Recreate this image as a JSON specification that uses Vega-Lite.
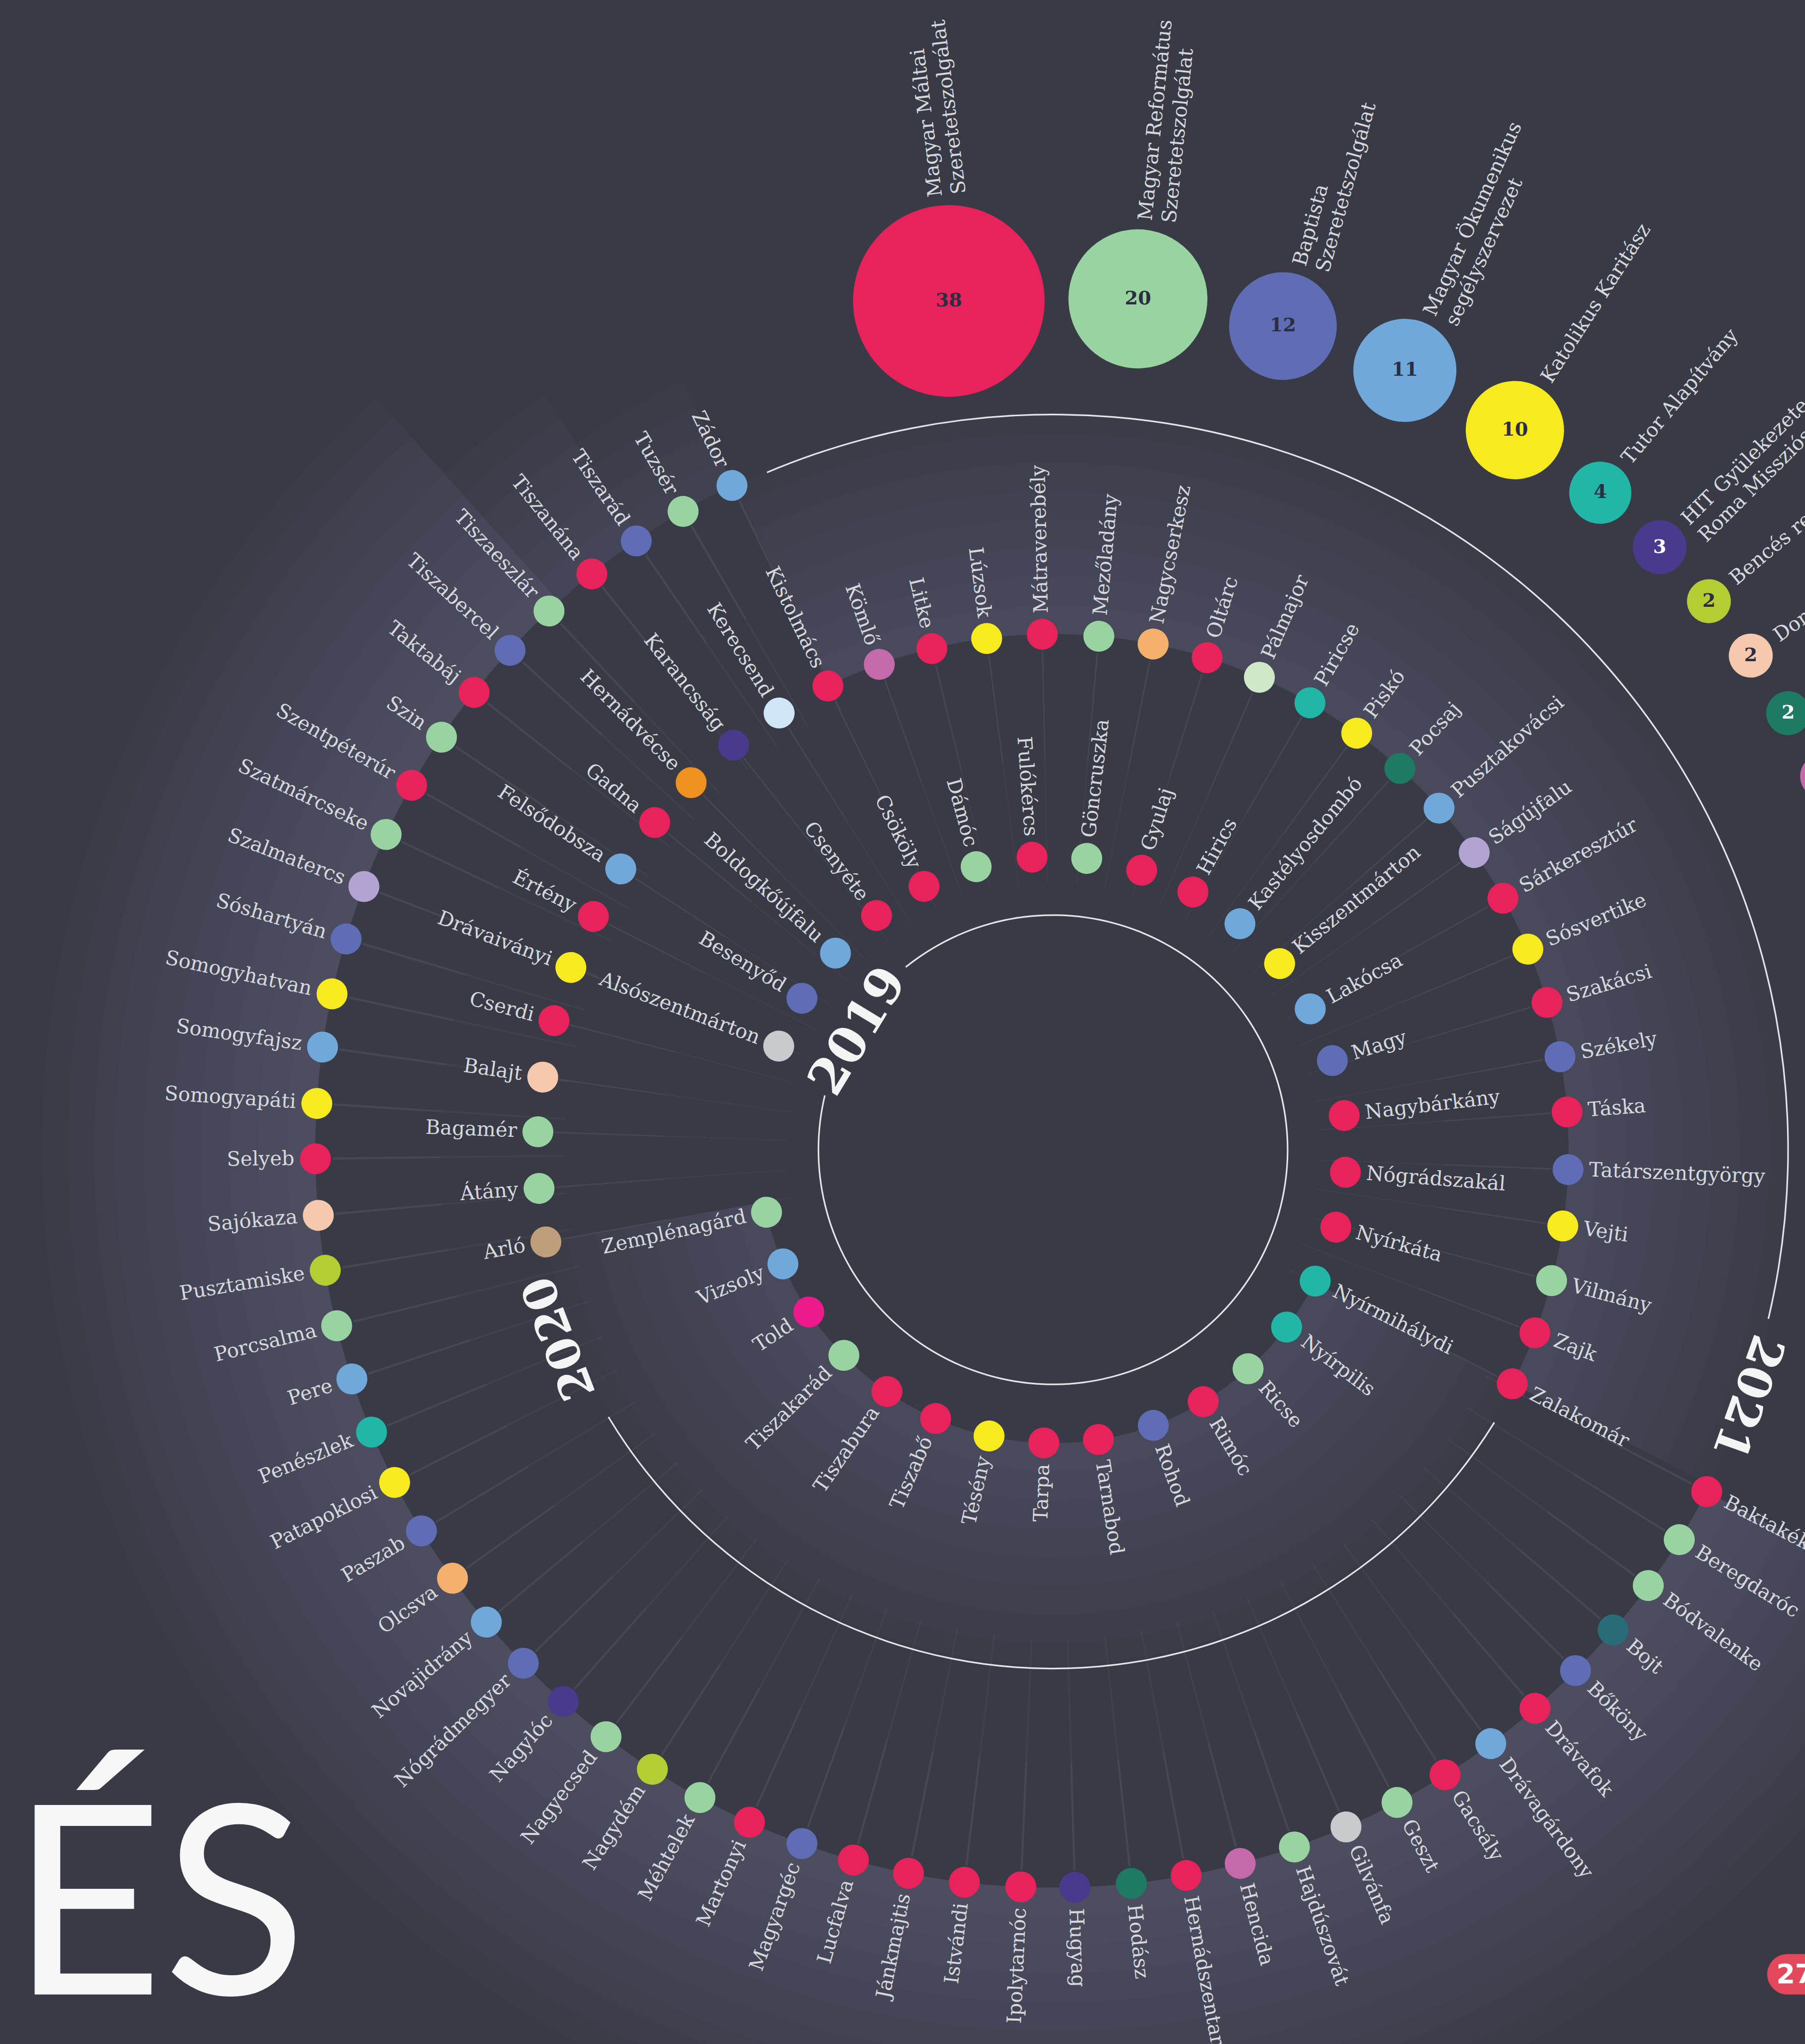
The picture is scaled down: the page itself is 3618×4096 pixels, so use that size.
{
"$schema": "https://vega.github.io/schema/vega-lite/v6.json",
"width": 3618, "height": 4096, "autosize": "none", "padding": 0,
"background": "#383a45",
"config": {"view": {"stroke": null}},
"datasets": {
"villages": [
{"name":"Alsószentmárton","year":2019,"org":"Sz12","deg":290.7},
{"name":"Besenyőd","year":2019,"org":"Baptista","deg":301.1},
{"name":"Boldogkőújfalu","year":2019,"org":"Ökumenikus","deg":312.1},
{"name":"Csenyéte","year":2019,"org":"Máltai","deg":323.0},
{"name":"Csököly","year":2019,"org":"Máltai","deg":333.9},
{"name":"Dámóc","year":2019,"org":"Református","deg":344.8},
{"name":"Fulókércs","year":2019,"org":"Máltai","deg":355.9},
{"name":"Göncruszka","year":2019,"org":"Református","deg":6.6},
{"name":"Gyulaj","year":2019,"org":"Máltai","deg":17.6},
{"name":"Hirics","year":2019,"org":"Máltai","deg":28.5},
{"name":"Kastélyosdombó","year":2019,"org":"Ökumenikus","deg":39.6},
{"name":"Kisszentmárton","year":2019,"org":"Karitász","deg":50.6},
{"name":"Lakócsa","year":2019,"org":"Ökumenikus","deg":61.3},
{"name":"Magy","year":2019,"org":"Baptista","deg":72.3},
{"name":"Nagybárkány","year":2019,"org":"Máltai","deg":83.3},
{"name":"Nógrádszakál","year":2019,"org":"Máltai","deg":94.4},
{"name":"Nyírkáta","year":2019,"org":"Máltai","deg":105.3},
{"name":"Nyírmihálydi","year":2019,"org":"Tutor","deg":116.6},
{"name":"Nyírpilis","year":2019,"org":"Tutor","deg":127.2},
{"name":"Ricse","year":2019,"org":"Református","deg":138.3},
{"name":"Rimóc","year":2019,"org":"Máltai","deg":149.2},
{"name":"Rohod","year":2019,"org":"Baptista","deg":160.0},
{"name":"Tarnabod","year":2019,"org":"Máltai","deg":171.1},
{"name":"Tarpa","year":2019,"org":"Máltai","deg":181.8},
{"name":"Tésény","year":2019,"org":"Karitász","deg":192.6},
{"name":"Tiszabő","year":2019,"org":"Máltai","deg":203.6},
{"name":"Tiszabura","year":2019,"org":"Máltai","deg":214.5},
{"name":"Tiszakarád","year":2019,"org":"Református","deg":225.5},
{"name":"Told","year":2019,"org":"Sz19","deg":236.4},
{"name":"Vizsoly","year":2019,"org":"Ökumenikus","deg":247.1},
{"name":"Zemplénagárd","year":2019,"org":"Református","deg":257.7},
{"name":"Arló","year":2020,"org":"Sz15","deg":259.7},
{"name":"Átány","year":2020,"org":"Református","deg":265.7},
{"name":"Bagamér","year":2020,"org":"Református","deg":272.0},
{"name":"Balajt","year":2020,"org":"Domonkos","deg":278.1},
{"name":"Cserdi","year":2020,"org":"Máltai","deg":284.5},
{"name":"Drávaiványi","year":2020,"org":"Karitász","deg":290.7},
{"name":"Értény","year":2020,"org":"Máltai","deg":296.9},
{"name":"Felsődobsza","year":2020,"org":"Ökumenikus","deg":303.0},
{"name":"Gadna","year":2020,"org":"Máltai","deg":309.4},
{"name":"Hernádvécse","year":2020,"org":"Sz16","deg":315.4},
{"name":"Karancsság","year":2020,"org":"HIT","deg":321.7},
{"name":"Kerecsend","year":2020,"org":"Sz17","deg":327.9},
{"name":"Kistolmács","year":2020,"org":"Máltai","deg":334.1},
{"name":"Kömlő","year":2020,"org":"Sz11","deg":340.3},
{"name":"Litke","year":2020,"org":"Máltai","deg":346.4},
{"name":"Lúzsok","year":2020,"org":"Karitász","deg":352.6},
{"name":"Mátraverebély","year":2020,"org":"Máltai","deg":358.8},
{"name":"Mezőladány","year":2020,"org":"Református","deg":5.1},
{"name":"Nagycserkesz","year":2020,"org":"Sz13","deg":11.2},
{"name":"Oltárc","year":2020,"org":"Máltai","deg":17.4},
{"name":"Pálmajor","year":2020,"org":"Sz18","deg":23.6},
{"name":"Piricse","year":2020,"org":"Tutor","deg":29.9},
{"name":"Piskó","year":2020,"org":"Karitász","deg":36.1},
{"name":"Pocsaj","year":2020,"org":"Sz10","deg":42.3},
{"name":"Pusztakovácsi","year":2020,"org":"Ökumenikus","deg":48.5},
{"name":"Ságújfalu","year":2020,"org":"Sz14","deg":54.8},
{"name":"Sárkeresztúr","year":2020,"org":"Máltai","deg":60.8},
{"name":"Sósvertike","year":2020,"org":"Karitász","deg":67.1},
{"name":"Szakácsi","year":2020,"org":"Máltai","deg":73.4},
{"name":"Székely","year":2020,"org":"Baptista","deg":79.6},
{"name":"Táska","year":2020,"org":"Máltai","deg":85.8},
{"name":"Tatárszentgyörgy","year":2020,"org":"Baptista","deg":92.2},
{"name":"Vejti","year":2020,"org":"Karitász","deg":98.5},
{"name":"Vilmány","year":2020,"org":"Református","deg":104.7},
{"name":"Zajk","year":2020,"org":"Máltai","deg":110.8},
{"name":"Zalakomár","year":2020,"org":"Máltai","deg":117.0},
{"name":"Baktakék","year":2021,"org":"Máltai","deg":117.6},
{"name":"Beregdaróc","year":2021,"org":"Református","deg":121.9},
{"name":"Bódvalenke","year":2021,"org":"Református","deg":126.2},
{"name":"Bojt","year":2021,"org":"Sz20","deg":130.6},
{"name":"Bőköny","year":2021,"org":"Baptista","deg":134.9},
{"name":"Drávafok","year":2021,"org":"Máltai","deg":139.2},
{"name":"Drávagárdony","year":2021,"org":"Ökumenikus","deg":143.6},
{"name":"Gacsály","year":2021,"org":"Máltai","deg":147.9},
{"name":"Geszt","year":2021,"org":"Református","deg":152.2},
{"name":"Gilvánfa","year":2021,"org":"Sz12","deg":156.6},
{"name":"Hajdúszovát","year":2021,"org":"Református","deg":160.9},
{"name":"Hencida","year":2021,"org":"Sz11","deg":165.3},
{"name":"Hernádszentandrás","year":2021,"org":"Máltai","deg":169.6},
{"name":"Hodász","year":2021,"org":"Sz10","deg":173.9},
{"name":"Hugyag","year":2021,"org":"HIT","deg":178.3},
{"name":"Ipolytarnóc","year":2021,"org":"Máltai","deg":182.5},
{"name":"Istvándi","year":2021,"org":"Máltai","deg":186.9},
{"name":"Jánkmajtis","year":2021,"org":"Máltai","deg":191.3},
{"name":"Lucfalva","year":2021,"org":"Máltai","deg":195.7},
{"name":"Magyargéc","year":2021,"org":"Baptista","deg":199.9},
{"name":"Martonyi","year":2021,"org":"Máltai","deg":204.3},
{"name":"Méhtelek","year":2021,"org":"Református","deg":208.6},
{"name":"Nagydém","year":2021,"org":"Bencés","deg":212.9},
{"name":"Nagyecsed","year":2021,"org":"Református","deg":217.3},
{"name":"Nagylóc","year":2021,"org":"HIT","deg":221.6},
{"name":"Nógrádmegyer","year":2021,"org":"Baptista","deg":225.9},
{"name":"Novajidrány","year":2021,"org":"Ökumenikus","deg":230.2},
{"name":"Olcsva","year":2021,"org":"Sz13","deg":234.5},
{"name":"Paszab","year":2021,"org":"Baptista","deg":238.9},
{"name":"Patapoklosi","year":2021,"org":"Karitász","deg":243.2},
{"name":"Penészlek","year":2021,"org":"Tutor","deg":247.5},
{"name":"Pere","year":2021,"org":"Ökumenikus","deg":251.9},
{"name":"Porcsalma","year":2021,"org":"Református","deg":256.2},
{"name":"Pusztamiske","year":2021,"org":"Bencés","deg":260.6},
{"name":"Sajókaza","year":2021,"org":"Domonkos","deg":264.9},
{"name":"Selyeb","year":2021,"org":"Máltai","deg":269.3},
{"name":"Somogyapáti","year":2021,"org":"Karitász","deg":273.6},
{"name":"Somogyfajsz","year":2021,"org":"Ökumenikus","deg":278.0},
{"name":"Somogyhatvan","year":2021,"org":"Karitász","deg":282.2},
{"name":"Sóshartyán","year":2021,"org":"Baptista","deg":286.6},
{"name":"Szalmatercs","year":2021,"org":"Sz14","deg":290.9},
{"name":"Szatmárcseke","year":2021,"org":"Református","deg":295.3},
{"name":"Szentpéterúr","year":2021,"org":"Máltai","deg":299.6},
{"name":"Szin","year":2021,"org":"Református","deg":304.0},
{"name":"Taktabáj","year":2021,"org":"Máltai","deg":308.3},
{"name":"Tiszabercel","year":2021,"org":"Baptista","deg":312.6},
{"name":"Tiszaeszlár","year":2021,"org":"Református","deg":316.9},
{"name":"Tiszanána","year":2021,"org":"Máltai","deg":321.3},
{"name":"Tiszarád","year":2021,"org":"Baptista","deg":325.6},
{"name":"Tuzsér","year":2021,"org":"Református","deg":329.9},
{"name":"Zádor","year":2021,"org":"Ökumenikus","deg":334.2}
],
"orgs": [
{"org":"Máltai","label":"Magyar Máltai\nSzeretetszolgálat","n":38,"deg":353.0},
{"org":"Református","label":"Magyar Református\nSzeretetszolgálat","n":20,"deg":5.7},
{"org":"Baptista","label":"Baptista\nSzeretetszolgálat","n":12,"deg":15.6},
{"org":"Ökumenikus","label":"Magyar Ökumenikus\nsegélyszervezet","n":11,"deg":24.3},
{"org":"Karitász","label":"Katolikus Karitász","n":10,"deg":32.7},
{"org":"Tutor","label":"Tutor Alapítvány","n":4,"deg":39.8},
{"org":"HIT","label":"HIT Gyülekezete\nRoma Missziós Szolgálat","n":3,"deg":45.2},
{"org":"Bencés","label":"Bencés rend","n":2,"deg":50.1},
{"org":"Domonkos","label":"Domonkos rend","n":2,"deg":54.7},
{"org":"Sz10","label":"","n":2,"deg":59.3},
{"org":"Sz11","label":"","n":2,"deg":64.1}
],
"spans": [
{"year":2019,"from":117.0,"to":259.7,"reach":170},
{"year":2020,"from":-25.7,"to":117.0,"reach":170},
{"year":2021,"from":117.6,"to":318.0,"reach":210},
{"year":2021,"from":318.0,"to":326.0,"reach":150},
{"year":2021,"from":326.0,"to":334.3,"reach":90}
],
"lines": [
{"year":2019,"from":-38.9,"to":283.4},
{"year":2020,"from":121.7,"to":239.0},
{"year":2021,"from":-22.9,"to":103.3}
],
"years": [
{"year":2019,"deg":301.3,"label":"2019"},
{"year":2020,"deg":249.1,"label":"2020"},
{"year":2021,"deg":109.6,"label":"2021"}
]
},
"encoding": {
"x": {"datum": 808, "type": "quantitative", "scale": {"domain": [0, 1385], "nice": false, "zero": false}, "axis": null},
"y": {"datum": 882, "type": "quantitative", "scale": {"domain": [0, 1568], "reverse": true, "nice": false, "zero": false}, "axis": null}
},
"layer": [
{"data":{"name":"spans"},"transform":[{"filter":"datum.reach >= 22"}],"mark":{"type":"arc","color":"#aab2cc","opacity":0.022,"radiusOffset":57.5,"radius2Offset":0},
"encoding":{"theta":{"field":"from","type":"quantitative","stack":null,"scale":{"type":"linear","domain":[0,360],"range":[0,6.283185307179586],"zero":false,"nice":false}},"theta2":{"field":"to"},
"radius":{"field":"year","type":"quantitative","scale":{"type":"linear","domain":[2019,2021],"range":[587.76,1478.55],"zero":false,"nice":false}},"radius2":{"field":"year"}}},
{"data":{"name":"spans"},"transform":[{"filter":"datum.reach >= 44"}],"mark":{"type":"arc","color":"#aab2cc","opacity":0.022,"radiusOffset":114.9,"radius2Offset":0},
"encoding":{"theta":{"field":"from","type":"quantitative","stack":null,"scale":{"type":"linear","domain":[0,360],"range":[0,6.283185307179586],"zero":false,"nice":false}},"theta2":{"field":"to"},
"radius":{"field":"year","type":"quantitative","scale":{"type":"linear","domain":[2019,2021],"range":[587.76,1478.55],"zero":false,"nice":false}},"radius2":{"field":"year"}}},
{"data":{"name":"spans"},"transform":[{"filter":"datum.reach >= 66"}],"mark":{"type":"arc","color":"#aab2cc","opacity":0.022,"radiusOffset":172.4,"radius2Offset":0},
"encoding":{"theta":{"field":"from","type":"quantitative","stack":null,"scale":{"type":"linear","domain":[0,360],"range":[0,6.283185307179586],"zero":false,"nice":false}},"theta2":{"field":"to"},
"radius":{"field":"year","type":"quantitative","scale":{"type":"linear","domain":[2019,2021],"range":[587.76,1478.55],"zero":false,"nice":false}},"radius2":{"field":"year"}}},
{"data":{"name":"spans"},"transform":[{"filter":"datum.reach >= 88"}],"mark":{"type":"arc","color":"#aab2cc","opacity":0.022,"radiusOffset":229.9,"radius2Offset":0},
"encoding":{"theta":{"field":"from","type":"quantitative","stack":null,"scale":{"type":"linear","domain":[0,360],"range":[0,6.283185307179586],"zero":false,"nice":false}},"theta2":{"field":"to"},
"radius":{"field":"year","type":"quantitative","scale":{"type":"linear","domain":[2019,2021],"range":[587.76,1478.55],"zero":false,"nice":false}},"radius2":{"field":"year"}}},
{"data":{"name":"spans"},"transform":[{"filter":"datum.reach >= 110"}],"mark":{"type":"arc","color":"#aab2cc","opacity":0.022,"radiusOffset":287.3,"radius2Offset":0},
"encoding":{"theta":{"field":"from","type":"quantitative","stack":null,"scale":{"type":"linear","domain":[0,360],"range":[0,6.283185307179586],"zero":false,"nice":false}},"theta2":{"field":"to"},
"radius":{"field":"year","type":"quantitative","scale":{"type":"linear","domain":[2019,2021],"range":[587.76,1478.55],"zero":false,"nice":false}},"radius2":{"field":"year"}}},
{"data":{"name":"spans"},"transform":[{"filter":"datum.reach >= 132"}],"mark":{"type":"arc","color":"#aab2cc","opacity":0.022,"radiusOffset":344.8,"radius2Offset":0},
"encoding":{"theta":{"field":"from","type":"quantitative","stack":null,"scale":{"type":"linear","domain":[0,360],"range":[0,6.283185307179586],"zero":false,"nice":false}},"theta2":{"field":"to"},
"radius":{"field":"year","type":"quantitative","scale":{"type":"linear","domain":[2019,2021],"range":[587.76,1478.55],"zero":false,"nice":false}},"radius2":{"field":"year"}}},
{"data":{"name":"spans"},"transform":[{"filter":"datum.reach >= 154"}],"mark":{"type":"arc","color":"#aab2cc","opacity":0.022,"radiusOffset":402.3,"radius2Offset":0},
"encoding":{"theta":{"field":"from","type":"quantitative","stack":null,"scale":{"type":"linear","domain":[0,360],"range":[0,6.283185307179586],"zero":false,"nice":false}},"theta2":{"field":"to"},
"radius":{"field":"year","type":"quantitative","scale":{"type":"linear","domain":[2019,2021],"range":[587.76,1478.55],"zero":false,"nice":false}},"radius2":{"field":"year"}}},
{"data":{"name":"spans"},"transform":[{"filter":"datum.reach >= 170"}],"mark":{"type":"arc","color":"#aab2cc","opacity":0.022,"radiusOffset":444.1,"radius2Offset":0},
"encoding":{"theta":{"field":"from","type":"quantitative","stack":null,"scale":{"type":"linear","domain":[0,360],"range":[0,6.283185307179586],"zero":false,"nice":false}},"theta2":{"field":"to"},
"radius":{"field":"year","type":"quantitative","scale":{"type":"linear","domain":[2019,2021],"range":[587.76,1478.55],"zero":false,"nice":false}},"radius2":{"field":"year"}}},
{"data":{"name":"spans"},"transform":[{"filter":"datum.reach >= 190"}],"mark":{"type":"arc","color":"#aab2cc","opacity":0.022,"radiusOffset":496.3,"radius2Offset":0},
"encoding":{"theta":{"field":"from","type":"quantitative","stack":null,"scale":{"type":"linear","domain":[0,360],"range":[0,6.283185307179586],"zero":false,"nice":false}},"theta2":{"field":"to"},
"radius":{"field":"year","type":"quantitative","scale":{"type":"linear","domain":[2019,2021],"range":[587.76,1478.55],"zero":false,"nice":false}},"radius2":{"field":"year"}}},
{"data":{"name":"spans"},"transform":[{"filter":"datum.reach >= 210"}],"mark":{"type":"arc","color":"#aab2cc","opacity":0.022,"radiusOffset":548.6,"radius2Offset":0},
"encoding":{"theta":{"field":"from","type":"quantitative","stack":null,"scale":{"type":"linear","domain":[0,360],"range":[0,6.283185307179586],"zero":false,"nice":false}},"theta2":{"field":"to"},
"radius":{"field":"year","type":"quantitative","scale":{"type":"linear","domain":[2019,2021],"range":[587.76,1478.55],"zero":false,"nice":false}},"radius2":{"field":"year"}}},

{"data":{"name":"villages"},"transform":[{"filter":"datum.year > 2019"}],"mark":{"type":"arc","color":"#c3c8da","opacity":0.05,"thetaOffset":-0.0016,"theta2Offset":0.0016,"radiusOffset":-34,"radius2Offset":-500},
"encoding":{"theta":{"field":"deg","type":"quantitative","stack":null,"scale":{"type":"linear","domain":[0,360],"range":[0,6.283185307179586],"zero":false,"nice":false}},"theta2":{"field":"deg"},
"radius":{"field":"year","type":"quantitative","scale":{"type":"linear","domain":[2019,2021],"range":[587.76,1478.55],"zero":false,"nice":false}},"radius2":{"field":"year"}}},
{"data":{"name":"villages"},"transform":[{"filter":"datum.year > 2019"}],"mark":{"type":"arc","color":"#c3c8da","opacity":0.05,"thetaOffset":-0.0016,"theta2Offset":0.0016,"radiusOffset":-34,"radius2Offset":-250},
"encoding":{"theta":{"field":"deg","type":"quantitative","stack":null,"scale":{"type":"linear","domain":[0,360],"range":[0,6.283185307179586],"zero":false,"nice":false}},"theta2":{"field":"deg"},
"radius":{"field":"year","type":"quantitative","scale":{"type":"linear","domain":[2019,2021],"range":[587.76,1478.55],"zero":false,"nice":false}},"radius2":{"field":"year"}}},

{"data":{"name":"lines"},"transform":[{"filter":"datum.year == 2019"}],"mark":{"type":"arc","color":"#e4e5e9","radiusOffset":-115.96,"radius2Offset":-119.16},
"encoding":{"theta":{"field":"from","type":"quantitative","stack":null,"scale":{"type":"linear","domain":[0,360],"range":[0,6.283185307179586],"zero":false,"nice":false}},"theta2":{"field":"to"},
"radius":{"field":"year","type":"quantitative","scale":{"type":"linear","domain":[2019,2021],"range":[587.76,1478.55],"zero":false,"nice":false}},"radius2":{"field":"year"}}},
{"data":{"name":"lines"},"transform":[{"filter":"datum.year == 2020"}],"mark":{"type":"arc","color":"#e4e5e9","radiusOffset":8.1,"radius2Offset":4.9},
"encoding":{"theta":{"field":"from","type":"quantitative","stack":null,"scale":{"type":"linear","domain":[0,360],"range":[0,6.283185307179586],"zero":false,"nice":false}},"theta2":{"field":"to"},
"radius":{"field":"year","type":"quantitative","scale":{"type":"linear","domain":[2019,2021],"range":[587.76,1478.55],"zero":false,"nice":false}},"radius2":{"field":"year"}}},
{"data":{"name":"lines"},"transform":[{"filter":"datum.year == 2021"}],"mark":{"type":"arc","color":"#e4e5e9","radiusOffset":-3.6,"radius2Offset":-6.8},
"encoding":{"theta":{"field":"from","type":"quantitative","stack":null,"scale":{"type":"linear","domain":[0,360],"range":[0,6.283185307179586],"zero":false,"nice":false}},"theta2":{"field":"to"},
"radius":{"field":"year","type":"quantitative","scale":{"type":"linear","domain":[2019,2021],"range":[587.76,1478.55],"zero":false,"nice":false}},"radius2":{"field":"year"}}},

{"data":{"name":"villages"},"transform":[{"filter":"datum.year == 2019"}],"mark":{"type":"arc","cornerRadius":1000,"thetaOffset":-0.05278,"theta2Offset":0.05278,"radiusOffset":31,"radius2Offset":-31},
"encoding":{"theta":{"field":"deg","type":"quantitative","stack":null,"scale":{"type":"linear","domain":[0,360],"range":[0,6.283185307179586],"zero":false,"nice":false}},"theta2":{"field":"deg"},
"radius":{"field":"year","type":"quantitative","scale":{"type":"linear","domain":[2019,2021],"range":[587.76,1478.55],"zero":false,"nice":false}},"radius2":{"field":"year"},
"color":{"field":"org","type":"nominal","legend":null,"scale":{"domain":["Máltai","Református","Baptista","Ökumenikus","Karitász","Tutor","HIT","Bencés","Domonkos","Sz10","Sz11","Sz12","Sz13","Sz14","Sz15","Sz16","Sz17","Sz18","Sz19","Sz20"],"range":["#e8235c","#98d3a1","#5f6db4","#70a8dc","#f7ea1e","#22b6a7","#4a3a8c","#b4cd32","#f6c9ae","#1e7a62","#c46aab","#c9cace","#f5b06c","#b3a3d3","#bf9f7a","#f0901e","#cfe6f8","#cfe8c8","#ee1a8c","#2a6b78"]}}}},
{"data":{"name":"villages"},"transform":[{"filter":"datum.year == 2020"}],"mark":{"type":"arc","cornerRadius":1000,"thetaOffset":-0.030005,"theta2Offset":0.030005,"radiusOffset":31,"radius2Offset":-31},
"encoding":{"theta":{"field":"deg","type":"quantitative","stack":null,"scale":{"type":"linear","domain":[0,360],"range":[0,6.283185307179586],"zero":false,"nice":false}},"theta2":{"field":"deg"},
"radius":{"field":"year","type":"quantitative","scale":{"type":"linear","domain":[2019,2021],"range":[587.76,1478.55],"zero":false,"nice":false}},"radius2":{"field":"year"},
"color":{"field":"org","type":"nominal","legend":null}}},
{"data":{"name":"villages"},"transform":[{"filter":"datum.year == 2021"}],"mark":{"type":"arc","cornerRadius":1000,"thetaOffset":-0.020968,"theta2Offset":0.020968,"radiusOffset":31,"radius2Offset":-31},
"encoding":{"theta":{"field":"deg","type":"quantitative","stack":null,"scale":{"type":"linear","domain":[0,360],"range":[0,6.283185307179586],"zero":false,"nice":false}},"theta2":{"field":"deg"},
"radius":{"field":"year","type":"quantitative","scale":{"type":"linear","domain":[2019,2021],"range":[587.76,1478.55],"zero":false,"nice":false}},"radius2":{"field":"year"},
"color":{"field":"org","type":"nominal","legend":null}}},

{"data":{"name":"villages"},"transform":[{"filter":"datum.deg < 180 || datum.deg >= 357.5"}],"mark":{"type":"text","align":"left","baseline":"middle","dx":42,"font":"DejaVu Serif","fontSize":40,"color":"#d6d8de"},
"encoding":{"text":{"field":"name"},"theta":{"field":"deg","type":"quantitative","stack":null,"scale":{"type":"linear","domain":[0,360],"range":[0,6.283185307179586],"zero":false,"nice":false}},
"radius":{"field":"year","type":"quantitative","scale":{"type":"linear","domain":[2019,2021],"range":[587.76,1478.55],"zero":false,"nice":false}},
"angle":{"field":"deg","type":"quantitative","scale":{"domain":[0,360],"range":[-90,270],"zero":false,"nice":false}}}},
{"data":{"name":"villages"},"transform":[{"filter":"datum.deg >= 180 && datum.deg < 357.5"}],"mark":{"type":"text","align":"right","baseline":"middle","dx":-42,"font":"DejaVu Serif","fontSize":40,"color":"#d6d8de"},
"encoding":{"text":{"field":"name"},"theta":{"field":"deg","type":"quantitative","stack":null,"scale":{"type":"linear","domain":[0,360],"range":[0,6.283185307179586],"zero":false,"nice":false}},
"radius":{"field":"year","type":"quantitative","scale":{"type":"linear","domain":[2019,2021],"range":[587.76,1478.55],"zero":false,"nice":false}},
"angle":{"field":"deg","type":"quantitative","scale":{"domain":[0,360],"range":[-270,90],"zero":false,"nice":false}}}},

{"data":{"name":"years"},"transform":[{"filter":"datum.year == 2019"}],"mark":{"type":"text","align":"center","baseline":"middle","dy":132,"font":"DejaVu Serif","fontWeight":"bold","fontSize":100,"color":"#f4f4f4"},
"encoding":{"text":{"field":"label"},"theta":{"field":"deg","type":"quantitative","stack":null,"scale":{"type":"linear","domain":[0,360],"range":[0,6.283185307179586],"zero":false,"nice":false}},
"radius":{"field":"year","type":"quantitative","scale":{"type":"linear","domain":[2019,2021],"range":[587.76,1478.55],"zero":false,"nice":false}},
"angle":{"field":"deg","type":"quantitative","scale":{"domain":[0,360],"range":[0,360],"zero":false,"nice":false}}}},
{"data":{"name":"years"},"transform":[{"filter":"datum.year == 2020"}],"mark":{"type":"text","align":"center","baseline":"middle","dy":-25,"font":"DejaVu Serif","fontWeight":"bold","fontSize":92,"color":"#f4f4f4"},
"encoding":{"text":{"field":"label"},"theta":{"field":"deg","type":"quantitative","stack":null,"scale":{"type":"linear","domain":[0,360],"range":[0,6.283185307179586],"zero":false,"nice":false}},
"radius":{"field":"year","type":"quantitative","scale":{"type":"linear","domain":[2019,2021],"range":[587.76,1478.55],"zero":false,"nice":false}},
"angle":{"field":"deg","type":"quantitative","scale":{"domain":[0,360],"range":[0,360],"zero":false,"nice":false}}}},
{"data":{"name":"years"},"transform":[{"filter":"datum.year == 2021"}],"mark":{"type":"text","align":"center","baseline":"middle","dy":2,"font":"DejaVu Serif","fontWeight":"bold","fontSize":92,"color":"#f4f4f4"},
"encoding":{"text":{"field":"label"},"theta":{"field":"deg","type":"quantitative","stack":null,"scale":{"type":"linear","domain":[0,360],"range":[0,6.283185307179586],"zero":false,"nice":false}},
"radius":{"field":"year","type":"quantitative","scale":{"type":"linear","domain":[2019,2021],"range":[587.76,1478.55],"zero":false,"nice":false}},
"angle":{"field":"deg","type":"quantitative","scale":{"domain":[0,360],"range":[0,360],"zero":false,"nice":false}}}},

{"data":{"name":"orgs"},"transform":[{"filter":"datum.n == 38"}],"mark":{"type":"arc","cornerRadius":1000,"thetaOffset":-0.11228,"theta2Offset":0.11228,"radiusOffset":192.0,"radius2Offset":-192.0},
"encoding":{"theta":{"field":"deg","type":"quantitative","stack":null,"scale":{"type":"linear","domain":[0,360],"range":[0,6.283185307179586],"zero":false,"nice":false}},"theta2":{"field":"deg"},
"radius":{"datum":656,"type":"quantitative","scale":{"type":"linear","domain":[0,1000],"range":[0,2612.27],"zero":false,"nice":false}},"radius2":{"datum":656},"color":{"field":"org","type":"nominal","legend":null}}},
{"data":{"name":"orgs"},"transform":[{"filter":"datum.n == 20"}],"mark":{"type":"arc","cornerRadius":1000,"thetaOffset":-0.08138,"theta2Offset":0.08138,"radiusOffset":139.3,"radius2Offset":-139.3},
"encoding":{"theta":{"field":"deg","type":"quantitative","stack":null,"scale":{"type":"linear","domain":[0,360],"range":[0,6.283185307179586],"zero":false,"nice":false}},"theta2":{"field":"deg"},
"radius":{"datum":656,"type":"quantitative","scale":{"type":"linear","domain":[0,1000],"range":[0,2612.27],"zero":false,"nice":false}},"radius2":{"datum":656},"color":{"field":"org","type":"nominal","legend":null}}},
{"data":{"name":"orgs"},"transform":[{"filter":"datum.n == 12"}],"mark":{"type":"arc","cornerRadius":1000,"thetaOffset":-0.06301,"theta2Offset":0.06301,"radiusOffset":107.9,"radius2Offset":-107.9},
"encoding":{"theta":{"field":"deg","type":"quantitative","stack":null,"scale":{"type":"linear","domain":[0,360],"range":[0,6.283185307179586],"zero":false,"nice":false}},"theta2":{"field":"deg"},
"radius":{"datum":656,"type":"quantitative","scale":{"type":"linear","domain":[0,1000],"range":[0,2612.27],"zero":false,"nice":false}},"radius2":{"datum":656},"color":{"field":"org","type":"nominal","legend":null}}},
{"data":{"name":"orgs"},"transform":[{"filter":"datum.n == 11"}],"mark":{"type":"arc","cornerRadius":1000,"thetaOffset":-0.06032,"theta2Offset":0.06032,"radiusOffset":103.3,"radius2Offset":-103.3},
"encoding":{"theta":{"field":"deg","type":"quantitative","stack":null,"scale":{"type":"linear","domain":[0,360],"range":[0,6.283185307179586],"zero":false,"nice":false}},"theta2":{"field":"deg"},
"radius":{"datum":656,"type":"quantitative","scale":{"type":"linear","domain":[0,1000],"range":[0,2612.27],"zero":false,"nice":false}},"radius2":{"datum":656},"color":{"field":"org","type":"nominal","legend":null}}},
{"data":{"name":"orgs"},"transform":[{"filter":"datum.n == 10"}],"mark":{"type":"arc","cornerRadius":1000,"thetaOffset":-0.05751,"theta2Offset":0.05751,"radiusOffset":98.5,"radius2Offset":-98.5},
"encoding":{"theta":{"field":"deg","type":"quantitative","stack":null,"scale":{"type":"linear","domain":[0,360],"range":[0,6.283185307179586],"zero":false,"nice":false}},"theta2":{"field":"deg"},
"radius":{"datum":656,"type":"quantitative","scale":{"type":"linear","domain":[0,1000],"range":[0,2612.27],"zero":false,"nice":false}},"radius2":{"datum":656},"color":{"field":"org","type":"nominal","legend":null}}},
{"data":{"name":"orgs"},"transform":[{"filter":"datum.n == 4"}],"mark":{"type":"arc","cornerRadius":1000,"thetaOffset":-0.03637,"theta2Offset":0.03637,"radiusOffset":62.3,"radius2Offset":-62.3},
"encoding":{"theta":{"field":"deg","type":"quantitative","stack":null,"scale":{"type":"linear","domain":[0,360],"range":[0,6.283185307179586],"zero":false,"nice":false}},"theta2":{"field":"deg"},
"radius":{"datum":656,"type":"quantitative","scale":{"type":"linear","domain":[0,1000],"range":[0,2612.27],"zero":false,"nice":false}},"radius2":{"datum":656},"color":{"field":"org","type":"nominal","legend":null}}},
{"data":{"name":"orgs"},"transform":[{"filter":"datum.n == 3"}],"mark":{"type":"arc","cornerRadius":1000,"thetaOffset":-0.03149,"theta2Offset":0.03149,"radiusOffset":53.95,"radius2Offset":-53.95},
"encoding":{"theta":{"field":"deg","type":"quantitative","stack":null,"scale":{"type":"linear","domain":[0,360],"range":[0,6.283185307179586],"zero":false,"nice":false}},"theta2":{"field":"deg"},
"radius":{"datum":656,"type":"quantitative","scale":{"type":"linear","domain":[0,1000],"range":[0,2612.27],"zero":false,"nice":false}},"radius2":{"datum":656},"color":{"field":"org","type":"nominal","legend":null}}},
{"data":{"name":"orgs"},"transform":[{"filter":"datum.n == 2"}],"mark":{"type":"arc","cornerRadius":1000,"thetaOffset":-0.02571,"theta2Offset":0.02571,"radiusOffset":44.05,"radius2Offset":-44.05},
"encoding":{"theta":{"field":"deg","type":"quantitative","stack":null,"scale":{"type":"linear","domain":[0,360],"range":[0,6.283185307179586],"zero":false,"nice":false}},"theta2":{"field":"deg"},
"radius":{"datum":656,"type":"quantitative","scale":{"type":"linear","domain":[0,1000],"range":[0,2612.27],"zero":false,"nice":false}},"radius2":{"datum":656},"color":{"field":"org","type":"nominal","legend":null}}},

{"data":{"name":"orgs"},"mark":{"type":"text","align":"center","baseline":"middle","font":"DejaVu Serif","fontWeight":"bold","fontSize":38},
"encoding":{"text":{"field":"n","type":"quantitative"},"theta":{"field":"deg","type":"quantitative","stack":null,"scale":{"type":"linear","domain":[0,360],"range":[0,6.283185307179586],"zero":false,"nice":false}},
"radius":{"datum":656,"type":"quantitative","scale":{"type":"linear","domain":[0,1000],"range":[0,2612.27],"zero":false,"nice":false}},
"color":{"condition":{"test":"datum.org === 'HIT' || datum.org === 'Sz10'","value":"#ffffff"},"value":"#2b2d40"}}},

{"data":{"name":"orgs"},"mark":{"type":"text","align":"left","baseline":"middle","font":"DejaVu Serif","fontSize":40,"lineBreak":"\n","lineHeight":48,"color":"#d6d8de"},
"encoding":{"text":{"field":"label"},"theta":{"field":"deg","type":"quantitative","stack":null,"scale":{"type":"linear","domain":[0,360],"range":[0,6.283185307179586],"zero":false,"nice":false}},
"radius":{"field":"n","type":"quantitative","scale":{"type":"sqrt","domain":[0,38],"range":[1731.9,1923.9],"zero":false,"nice":false}},
"angle":{"field":"deg","type":"quantitative","scale":{"domain":[0,360],"range":[-90,270],"zero":false,"nice":false}}}},

{"data":{"values":[{"t":"ÉS"}]},"mark":{"type":"text","align":"left","baseline":"alphabetic","font":"Lato","fontWeight":"normal","fontSize":530,"color":"#f7f7f7"},
"encoding":{"text":{"field":"t"},"x":{"datum":8,"type":"quantitative","axis":null},"y":{"datum":1530,"type":"quantitative","axis":null}}},

{"data":{"values":[{"page":"27"}]},"mark":{"type":"rect","color":"#e3475a","cornerRadius":42},
"encoding":{"x":{"datum":1356,"type":"quantitative","axis":null},"x2":{"datum":1402},"y":{"datum":1499,"type":"quantitative","axis":null},"y2":{"datum":1530}}},
{"data":{"values":[{"page":"27"}]},"mark":{"type":"text","align":"left","baseline":"middle","font":"DejaVu Sans","fontWeight":"bold","fontSize":54,"color":"#ffffff"},
"encoding":{"text":{"field":"page"},"x":{"datum":1363,"type":"quantitative","axis":null},"y":{"datum":1515,"type":"quantitative","axis":null}}}
],
"resolve": {"scale": {"radius": "independent", "angle": "independent"}}
}
